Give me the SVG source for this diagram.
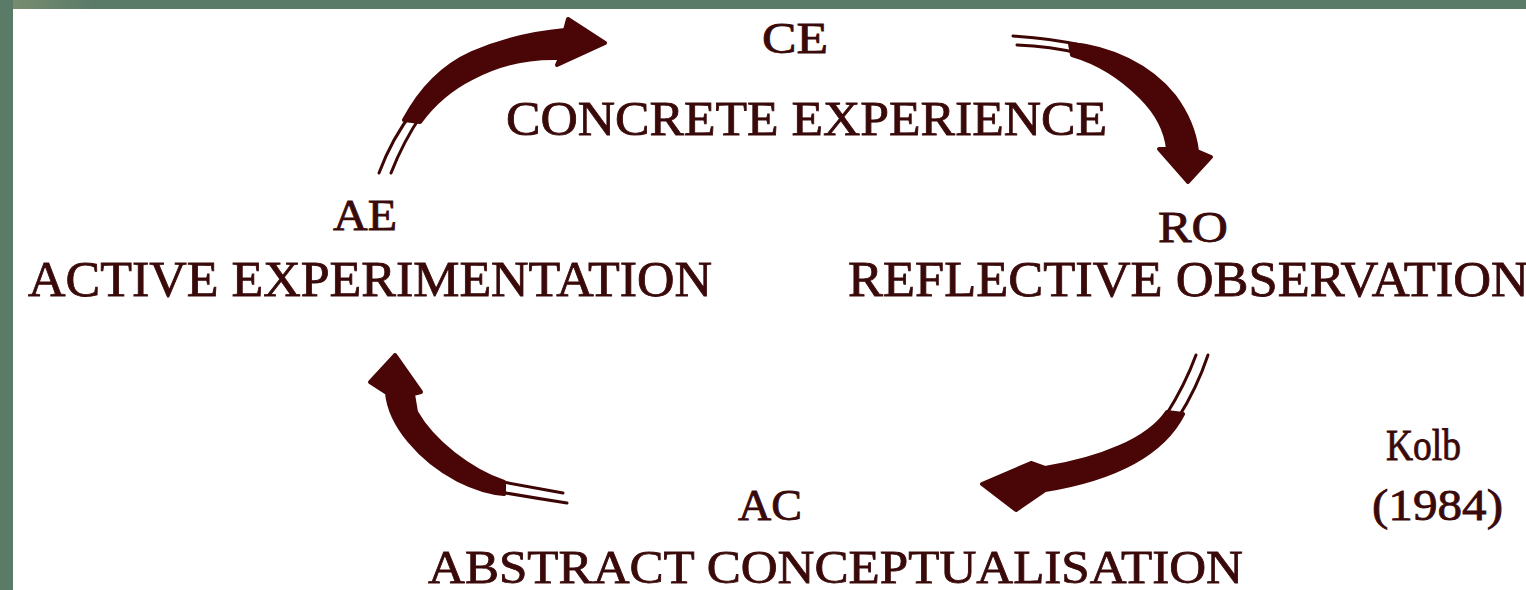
<svg xmlns="http://www.w3.org/2000/svg" width="1526" height="590" viewBox="0 0 1526 590">
  <defs>
    <style>
      .lbl { font-family: "Liberation Serif", "Times New Roman", serif; fill: #3a0a0a; stroke: #3a0a0a; stroke-width: 0.8; }
      .abbr { font-size: 44px; }
      .full { font-size: 50px; }
      .body { fill: #4a0606; stroke: #4a0606; stroke-width: 4; stroke-linejoin: round; }
      .tail { fill: none; stroke: #3e0505; stroke-width: 3; stroke-linecap: round; }
    </style>
    <linearGradient id="topband" x1="0" y1="0" x2="1" y2="0">
      <stop offset="0" stop-color="#7d9070"/>
      <stop offset="0.06" stop-color="#5b7b69"/>
      <stop offset="1" stop-color="#5b7b69"/>
    </linearGradient>
  </defs>

  <rect x="0" y="0" width="1526" height="590" fill="#ffffff"/>
  <rect x="0" y="0" width="1526" height="9" fill="url(#topband)"/>
  <rect x="0" y="0" width="13" height="590" fill="#5b7b69"/>

  <g id="connectors">
    <g id="arrow-ae-ce">
      <path class="tail" d="M379,173 Q392,138 414,110"/>
      <path class="tail" d="M391,173 Q403,142 422,114"/>
      <path class="body" d="M404,120 C420,90 443,66 472,53 C502,40 532,33 565,30 L568,19 L605,43 L557,65 L560,58 C530,57 500,63 472,78 C450,89 434,103 420,122 Z"/>
    </g>
    <g id="arrow-ce-ro">
      <path class="tail" d="M1013,36 Q1050,38 1086,46"/>
      <path class="tail" d="M1017,45 Q1050,46 1082,54"/>
      <path class="body" d="M1070,44 C1110,47 1150,66 1174,96 C1189,116 1195,135 1197,151 L1211,157 L1188,182 L1159,149 L1168,149 C1166,130 1156,112 1141,97 C1122,78 1100,63 1072,55 Z"/>
    </g>
    <g id="arrow-ro-ac">
      <path class="tail" d="M1196,355 Q1185,385 1166,415"/>
      <path class="tail" d="M1208,355 Q1197,388 1178,418"/>
      <path class="body" d="M1167,412 C1148,440 1100,459 1045,468 L1031,463 L982,484 L1016,510 L1045,490 C1112,479 1162,455 1183,414 Z"/>
    </g>
    <g id="arrow-ac-ae">
      <path class="tail" d="M563,493 Q530,487 492,480"/>
      <path class="tail" d="M567,503 Q535,498 500,492"/>
      <path class="body" d="M504,482 C470,470 433,442 416,412 L413,394 L421,392 L395,355 L370,382 L387,393 C390,425 420,460 458,480 C474,488 490,493 504,494 Z"/>
    </g>
  </g>

  <g id="node-ce">
    <text class="lbl abbr" x="762" y="53" textLength="66" lengthAdjust="spacingAndGlyphs">CE</text>
    <text class="lbl" x="506" y="135" textLength="601" lengthAdjust="spacingAndGlyphs" style="font-size:48px">CONCRETE EXPERIENCE</text>
  </g>
  <g id="node-ro">
    <text class="lbl abbr" x="1158" y="242" textLength="70" lengthAdjust="spacingAndGlyphs">RO</text>
    <text class="lbl full" x="848" y="296" textLength="681" lengthAdjust="spacingAndGlyphs">REFLECTIVE OBSERVATION</text>
  </g>
  <g id="node-ac">
    <text class="lbl abbr" x="738" y="520" textLength="64" lengthAdjust="spacingAndGlyphs">AC</text>
    <text class="lbl" x="428" y="583" textLength="815" lengthAdjust="spacingAndGlyphs" style="font-size:47px">ABSTRACT CONCEPTUALISATION</text>
  </g>
  <g id="node-ae">
    <text class="lbl abbr" x="333" y="230" textLength="64" lengthAdjust="spacingAndGlyphs">AE</text>
    <text class="lbl full" x="28" y="296" textLength="684" lengthAdjust="spacingAndGlyphs">ACTIVE EXPERIMENTATION</text>
  </g>
  <g id="citation">
    <text class="lbl abbr" x="1386" y="460" textLength="75" lengthAdjust="spacingAndGlyphs">Kolb</text>
    <text class="lbl abbr" x="1372" y="520" textLength="131" lengthAdjust="spacingAndGlyphs">(1984)</text>
  </g>
</svg>
